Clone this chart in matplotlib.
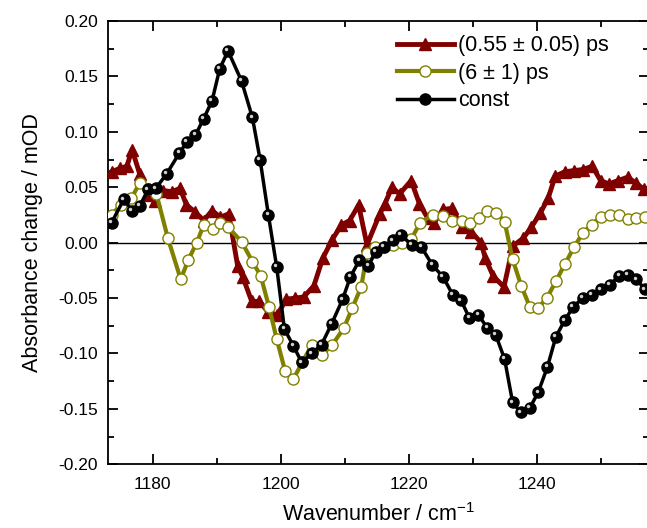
import matplotlib
matplotlib.use('Agg')
import matplotlib.pyplot as plt
import matplotlib.transforms as mtransforms

plt.rcParams['font.family'] = ['Liberation Sans', 'DejaVu Sans']
plt.rcParams['mathtext.default'] = 'regular'

# fast component (0.55 ps)
x_fast = [1173.6, 1174.9, 1176.0, 1176.8, 1178.0, 1179.3, 1180.4, 1181.7, 1183.0, 1184.3,
          1185.3, 1186.6, 1188.0, 1189.3, 1190.6, 1191.9, 1193.3, 1194.1, 1195.5, 1196.7,
          1198.1, 1199.5, 1200.9, 1202.3, 1203.6, 1205.2, 1206.6, 1208.0, 1209.5, 1210.8,
          1212.2, 1213.5, 1215.5, 1216.3, 1217.4, 1218.6, 1220.4, 1221.7, 1223.0, 1224.0,
          1225.4, 1226.8, 1228.3, 1229.8, 1231.3, 1232.0, 1233.2, 1234.9, 1236.3, 1237.9,
          1239.2, 1240.6, 1241.8, 1242.9, 1244.4, 1245.8, 1247.2, 1248.7, 1250.0, 1251.3,
          1252.7, 1254.2, 1255.5, 1256.8]
y_fast = [0.064, 0.067, 0.069, 0.084, 0.062, 0.043, 0.038, 0.047, 0.046, 0.049,
          0.034, 0.028, 0.020, 0.029, 0.023, 0.026, -0.021, -0.031, -0.053, -0.053,
          -0.063, -0.065, -0.051, -0.050, -0.049, -0.039, -0.014, 0.002, 0.016, 0.020,
          0.034, -0.002, 0.026, 0.035, 0.050, 0.044, 0.056, 0.035, 0.022, 0.018,
          0.030, 0.031, 0.014, 0.010, 0.000, -0.014, -0.030, -0.040, -0.003, 0.004,
          0.014, 0.027, 0.040, 0.060, 0.064, 0.065, 0.066, 0.069, 0.056, 0.053,
          0.056, 0.059, 0.054, 0.048]

# slow component (6 ps)
x_slow = [1173.6, 1175.0, 1176.7, 1178.0, 1179.3, 1180.6, 1182.4, 1184.4, 1185.6, 1186.9,
          1188.0, 1189.4, 1190.5, 1191.8, 1193.9, 1195.6, 1196.9, 1198.2, 1199.4, 1200.7,
          1202.0, 1203.4, 1204.9, 1206.5, 1208.1, 1209.9, 1211.2, 1212.6, 1213.5, 1214.8,
          1216.2, 1217.6, 1218.9, 1220.4, 1221.8, 1223.8, 1225.4, 1226.8, 1228.3, 1229.6,
          1230.95, 1232.3, 1233.7, 1235.0, 1236.25, 1237.6, 1238.95, 1240.25, 1241.65, 1243.0,
          1244.45, 1245.85, 1247.25, 1248.65, 1250.0, 1251.45, 1252.9, 1254.2, 1255.6, 1256.9]
y_slow = [0.025, 0.034, 0.040, 0.054, 0.048, 0.044, 0.004, -0.033, -0.0155, 0.000,
          0.016, 0.012, 0.0175, 0.014, 0.001, -0.017, -0.030, -0.058, -0.087, -0.1155,
          -0.123, -0.108, -0.092, -0.101, -0.092, -0.077, -0.059, -0.040, -0.0095, -0.004,
          -0.004, -0.002, 0.000, 0.003, 0.018, 0.025, 0.024, 0.020, 0.0195, 0.0175,
          0.022, 0.029, 0.027, 0.019, -0.015, -0.039, -0.058, -0.059, -0.0495, -0.035,
          -0.019, -0.004, 0.009, 0.016, 0.0235, 0.025, 0.025, 0.0215, 0.0225, 0.023]

# constant component
x_const = [1173.6, 1175.5, 1176.8, 1178.0, 1179.3, 1180.5, 1182.2, 1184.2, 1185.4, 1186.7,
           1188.0, 1189.3, 1190.5, 1191.8, 1193.9, 1195.6, 1196.8, 1198.1, 1199.4, 1200.6,
           1202.0, 1203.3, 1204.9, 1206.4, 1208.0, 1209.7, 1210.9, 1212.3, 1213.7, 1214.9,
           1216.1, 1217.5, 1218.8, 1220.5, 1222.0, 1223.7, 1225.4, 1226.9, 1228.2, 1229.5,
           1230.9, 1232.3, 1233.6, 1235.0, 1236.25, 1237.5, 1238.95, 1240.25, 1241.7, 1243.0,
           1244.4, 1245.7, 1247.2, 1248.6, 1250.0, 1251.45, 1252.9, 1254.2, 1255.6, 1256.9]
y_const = [0.018, 0.039, 0.029, 0.033, 0.048, 0.049, 0.062, 0.081, 0.091, 0.097,
           0.112, 0.128, 0.157, 0.173, 0.146, 0.113, 0.075, 0.025, -0.022, -0.078,
           -0.093, -0.108, -0.100, -0.092, -0.073, -0.051, -0.031, -0.016, -0.021, -0.008,
           -0.004, 0.002, 0.007, -0.002, -0.004, -0.020, -0.031, -0.047, -0.052, -0.068,
           -0.065, -0.077, -0.083, -0.105, -0.144, -0.153, -0.149, -0.135, -0.112, -0.085,
           -0.070, -0.058, -0.050, -0.047, -0.042, -0.038, -0.030, -0.029, -0.033, -0.042]

labels = ['(0.55 ± 0.05) ps', '(6 ± 1) ps', 'const']
dark_red = '#800000'
olive = '#808000'

fig = plt.figure(figsize=(6.47, 5.28), dpi=100)
ax = fig.add_axes([0.1665, 0.1206, 0.837, 0.8396])

ax.axhline(0, color='black', lw=1.0, zorder=1)

ax.plot(x_fast, y_fast, color=dark_red, lw=3.5, marker='^', ms=8.5,
        mfc=dark_red, mec=dark_red, label=labels[0], zorder=3)
ax.plot(x_slow, y_slow, color=olive, lw=3.0, marker='o', ms=8,
        mfc='white', mec=olive, mew=1.0, label=labels[1], zorder=4)
ax.plot(x_const, y_const, color='black', lw=2.5, marker='o', ms=8,
        mfc='black', mec='black', label=labels[2], zorder=5)
# little highlight on the black "sphere" markers
shift = mtransforms.offset_copy(ax.transData, fig=fig, x=-1.2, y=1.2, units='points')
ax.plot(x_const, y_const, ls='none', marker='o', ms=2.5, mfc='#d0d0d0', mec='none',
        transform=shift, zorder=6)

ax.set_xlim(1173.0, 1257.6)
ax.set_ylim(-0.20, 0.20)
ax.set_xticks([1180, 1200, 1220, 1240])
ax.set_xticks([1190, 1210, 1230, 1250], minor=True)
ax.set_yticks([-0.20, -0.15, -0.10, -0.05, 0.00, 0.05, 0.10, 0.15, 0.20])
ax.set_yticks([-0.175, -0.125, -0.075, -0.025, 0.025, 0.075, 0.125, 0.175], minor=True)
ax.yaxis.set_major_formatter(plt.FormatStrFormatter('%.2f'))
ax.tick_params(which='both', direction='in', top=True, right=True, width=1.3,
               labelsize=12.5, pad=7)
ax.tick_params(axis='x', which='major', pad=9)
ax.tick_params(which='major', length=7)
ax.tick_params(which='minor', length=4)
for s in ax.spines.values():
    s.set_linewidth(1.3)

ax.set_xlabel('Wavenumber / cm$^{-1}$', fontsize=15.5, labelpad=8)
ax.set_ylabel('Absorbance change / mOD', fontsize=15.5, labelpad=11)

ax.legend(loc='upper left', bbox_to_anchor=(0.518, 0.987), frameon=False,
          fontsize=15.5, handlelength=2.65, handletextpad=0.2, labelspacing=0.3,
          borderaxespad=0)

fig.savefig('out.png', dpi=100)
